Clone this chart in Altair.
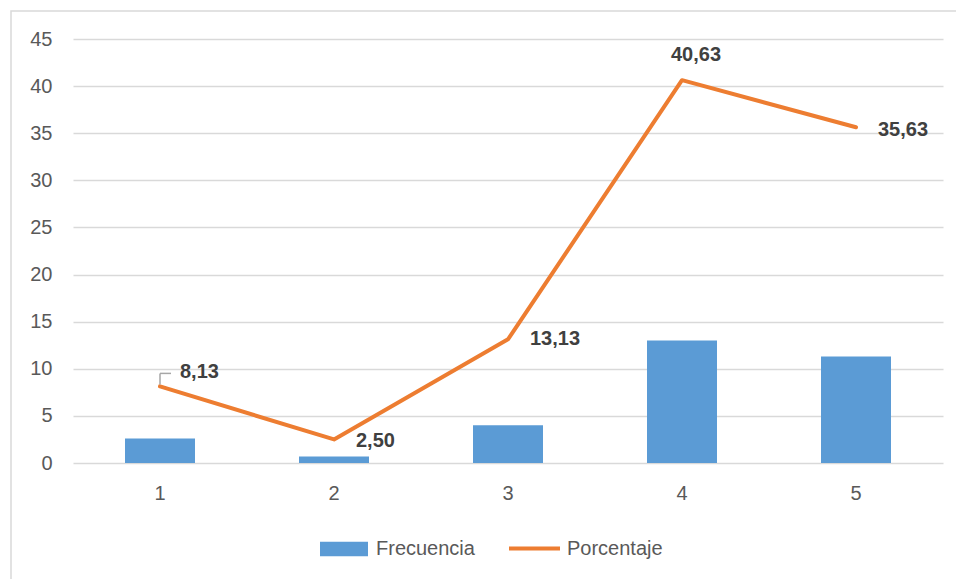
import altair as alt
import pandas as pd

# Datos del gráfico
categorias = ["1", "2", "3", "4", "5"]
frecuencia = [2.6, 0.7, 4.0, 13.0, 11.3]
porcentaje = [8.13, 2.50, 13.13, 40.63, 35.63]
etiquetas = ["8,13", "2,50", "13,13", "40,63", "35,63"]

df = pd.DataFrame({
    "cat": categorias,
    "frec": frecuencia,
    "pct": porcentaje,
    "lab": etiquetas,
})

AZUL = "#5B9BD5"
NARANJA = "#ED7D31"
GRIS = "#D9D9D9"
TEXTO = "#595959"
FUENTE = "Liberation Sans"

W, H = 870, 424
PAD = {"left": 73, "top": 39, "right": 13, "bottom": 116}

x_enc = alt.X(
    "cat:N",
    sort=categorias,
    scale=alt.Scale(paddingInner=0.6, paddingOuter=0.3),
    axis=alt.Axis(title=None, labelAngle=0, labelPadding=20, ticks=False,
                  domain=False, grid=False, labelColor=TEXTO,
                  labelFont=FUENTE, labelFontSize=20),
)
y_scale = alt.Scale(domain=[0, 45], nice=False)
y_axis = alt.Axis(title=None, values=list(range(0, 50, 5)), ticks=False,
                  domain=False, gridColor=GRIS, gridWidth=1.4,
                  labelPadding=21, labelColor=TEXTO, labelFont=FUENTE,
                  labelFontSize=20)


def y_enc(campo):
    return alt.Y(f"{campo}:Q", scale=y_scale, axis=y_axis)


base = alt.Chart(df)

# Marco exterior del gráfico
marco = alt.Chart(alt.Data(values=[{"k": 1}])).mark_rect(
    fillOpacity=0, stroke=GRIS, strokeWidth=1.5
).encode(
    x=alt.value(11 - PAD["left"]),
    y=alt.value(11 - PAD["top"]),
    x2=alt.value(W + 40),
    y2=alt.value(H + 200),
)

barras = base.transform_calculate(serie="'Frecuencia'").mark_bar(size=70).encode(
    x=x_enc,
    y=y_enc("frec"),
    fill=alt.Fill("serie:N", scale=alt.Scale(domain=["Frecuencia"], range=[AZUL]),
                  legend=alt.Legend(
                      title=None, orient="none", legendX=247, legendY=486,
                      symbolType="M-1,-0.3H1V0.3H-1Z", symbolSize=2304,
                      symbolStrokeWidth=0, labelFont=FUENTE, labelFontSize=20,
                      labelColor=TEXTO, labelOffset=8, padding=0)),
)

linea = base.transform_calculate(serie="'Porcentaje'").mark_line(
    strokeWidth=4, strokeCap="round", strokeJoin="round"
).encode(
    x=x_enc,
    y=y_enc("pct"),
    stroke=alt.Stroke("serie:N", scale=alt.Scale(domain=["Porcentaje"], range=[NARANJA]),
                      legend=alt.Legend(
                          title=None, orient="none", legendX=434, legendY=482,
                          symbolType="stroke", symbolSize=2601, symbolStrokeWidth=4,
                          labelFont=FUENTE, labelFontSize=20, labelColor=TEXTO,
                          labelOffset=5, padding=0)),
)

# Línea guía de la primera etiqueta
guia_v = base.transform_filter(alt.datum.cat == "1").mark_rule(
    color="#A6A6A6", strokeWidth=1.5, yOffset=-2, y2Offset=-13
).encode(x=x_enc, y=y_enc("pct"), y2="pct:Q")
guia_h = base.transform_filter(alt.datum.cat == "1").mark_rule(
    color="#A6A6A6", strokeWidth=1.5, yOffset=-13, x2Offset=11
).encode(x=x_enc, x2="cat:N", y=y_enc("pct"))

# Etiquetas de datos: (categoría, alineación, dx, dy)
posiciones = [("1", "left", 20, -14), ("2", "left", 22, 2), ("3", "left", 22, 0),
              ("4", "center", 14, -25), ("5", "left", 22, 3)]
textos = []
for c, al, dx, dy in posiciones:
    textos.append(
        base.transform_filter(alt.datum.cat == c).mark_text(
            align=al, baseline="middle", dx=dx, dy=dy, font=FUENTE,
            fontSize=20, fontWeight="bold", color="#404040"
        ).encode(x=x_enc, y=y_enc("pct"), text="lab:N")
    )

chart = alt.layer(marco, barras, linea, guia_v, guia_h, *textos).resolve_scale(
    fill="independent", stroke="independent"
).properties(
    width=W, height=H, autosize=alt.AutoSizeParams(type="none"), padding=PAD,
    background="white",
).configure_view(strokeWidth=0, stroke="transparent")

chart.save("out.html", embed_options={"renderer": "svg", "actions": False})
